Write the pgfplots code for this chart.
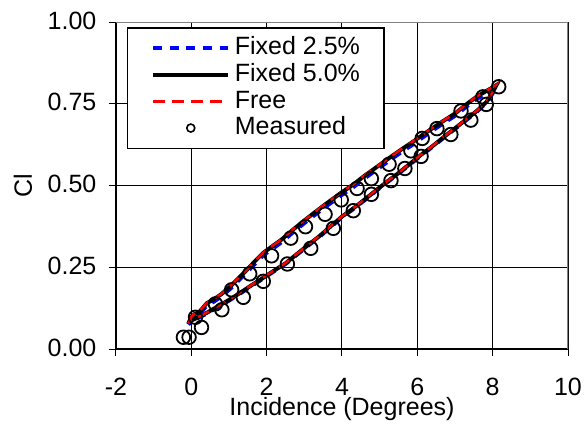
\documentclass[border=0pt]{standalone}
\usepackage{fontspec}
\setmainfont{Liberation Sans}
\usepackage{pgfplots}
\pgfplotsset{compat=1.18}
\newcommand{\chartfont}{\fontsize{12.5}{15}\selectfont}
\begin{document}
\begin{tikzpicture}[font=\chartfont]
\begin{axis}[
    name=ax,
    scale only axis, width=226pt, height=163.5pt,
    xmin=-2, xmax=10, ymin=0, ymax=1,
    xtick={-2,0,2,4,6,8,10}, xticklabels={-2,0,2,4,6,8,10},
    ytick={0,0.25,0.5,0.75,1}, yticklabels={0.00,0.25,0.50,0.75,1.00},
    axis x line*=bottom, axis y line*=left,
    axis line style={black, line width=0.7pt},
    grid=major, grid style={black, line width=0.5pt},
    tick align=outside, major tick length=3.5pt,
    tick style={black, line width=0.5pt},
    tick label style={font=\chartfont},
    label style={font=\chartfont},
    xticklabel style={anchor=base, inner sep=0pt, yshift=-19.5pt},
    yticklabel style={xshift=-2.8pt, yshift=0.7pt},
    xlabel={Incidence (Degrees)}, ylabel={Cl},
    every axis x label/.style={at={(rel axis cs:0.5,0)}, anchor=base,
        inner sep=0pt, yshift=-33pt},
    every axis y label/.style={at={(rel axis cs:-0.2058,0.5)}, anchor=center, rotate=90},
    legend style={at={(rel axis cs:0,1)}, anchor=north west,
        xshift=5.35pt, yshift=-2.65pt, draw=black, line width=0.6pt, fill=white,
        inner xsep=12pt, inner ysep=3.35pt, row sep=0pt, column sep=0pt,
        font=\chartfont,
        nodes={inner sep=0pt, text height=10pt, text depth=3.35pt},
        cells={anchor=west}},
    legend image code/.code={
        \draw[#1] (0.5pt,0pt) -- (38pt,0pt);
        \path[draw=none, fill=none] (0pt,0pt) (41.3pt,0pt);},
]
% Fixed 2.5%
\addplot[blue, line width=2pt, dash pattern=on 4.5pt off 3.8pt] coordinates {
(-0.08,0.075) (0.0,0.092) (0.1,0.102) (0.2,0.106) (0.3,0.118) (0.41,0.133)
(0.6,0.145) (0.8,0.161) (1.05,0.186) (1.3,0.215) (1.5,0.238) (1.7,0.262)
(1.91,0.287) (2.1,0.302) (2.4,0.327) (2.7,0.357) (3.0,0.385) (3.3,0.412)
(3.6,0.438) (3.98,0.47) (4.3,0.495) (4.6,0.522) (5.0,0.555) (5.3,0.58)
(5.6,0.604) (5.9,0.627) (6.13,0.646) (6.4,0.668) (6.7,0.691) (7.0,0.713)
(7.3,0.741) (7.57,0.764) (7.8,0.781) (8.0,0.795) (8.1,0.804)
(8.0,0.782) (7.84,0.754) (7.6,0.728) (7.3,0.700) (7.0,0.673) (6.7,0.646)
(6.4,0.618) (6.1,0.592) (5.8,0.564) (5.5,0.536) (5.2,0.510) (4.9,0.483)
(4.6,0.455) (4.3,0.428) (4.0,0.403) (3.7,0.373) (3.4,0.343) (3.1,0.316)
(2.8,0.288) (2.5,0.260) (2.2,0.238) (1.9,0.215) (1.6,0.193) (1.3,0.170)
(1.0,0.148) (0.7,0.128) (0.4,0.108) (0.2,0.096) (0.0,0.085) (-0.08,0.075)
};
\addlegendentry{Fixed 2.5\%}
% Fixed 5.0%
\addplot[black, line width=2pt] coordinates {
(-0.08,0.078) (0.0,0.098) (0.1,0.108) (0.2,0.112) (0.3,0.125) (0.41,0.14)
(0.6,0.152) (0.8,0.168) (1.05,0.193) (1.3,0.222) (1.5,0.245) (1.7,0.27)
(1.91,0.294) (2.1,0.31) (2.4,0.335) (2.7,0.365) (3.0,0.393) (3.3,0.42)
(3.6,0.446) (3.98,0.478) (4.3,0.503) (4.6,0.53) (5.0,0.563) (5.3,0.588)
(5.6,0.612) (5.9,0.635) (6.13,0.654) (6.4,0.675) (6.7,0.698) (7.0,0.72)
(7.3,0.748) (7.57,0.771) (7.8,0.787) (8.0,0.8) (8.1,0.807)
(8.0,0.785) (7.84,0.756) (7.6,0.73) (7.3,0.702) (7.0,0.675) (6.7,0.648)
(6.4,0.62) (6.1,0.594) (5.8,0.566) (5.5,0.538) (5.2,0.512) (4.9,0.485)
(4.6,0.457) (4.3,0.43) (4.0,0.405) (3.7,0.375) (3.4,0.345) (3.1,0.318)
(2.8,0.29) (2.5,0.262) (2.2,0.24) (1.9,0.217) (1.6,0.195) (1.3,0.172)
(1.0,0.15) (0.7,0.13) (0.4,0.11) (0.2,0.098) (0.0,0.087) (-0.08,0.078)
};
\addlegendentry{Fixed 5.0\%}
% Free
\addplot[red, line width=1.2pt, dash pattern=on 6pt off 3.5pt] coordinates {
(-0.08,0.079) (0.0,0.099) (0.1,0.109) (0.2,0.113) (0.3,0.127) (0.41,0.141)
(0.6,0.153) (0.8,0.169) (1.05,0.194) (1.3,0.223) (1.5,0.246) (1.7,0.271)
(1.91,0.295) (2.1,0.311) (2.4,0.336) (2.7,0.366) (3.0,0.394) (3.3,0.421)
(3.6,0.447) (3.98,0.479) (4.3,0.504) (4.6,0.531) (5.0,0.564) (5.3,0.589)
(5.6,0.613) (5.9,0.636) (6.13,0.655) (6.4,0.676) (6.7,0.699) (7.0,0.721)
(7.3,0.749) (7.57,0.772) (7.8,0.788) (8.0,0.801) (8.1,0.808)
(8.0,0.786) (7.84,0.757) (7.6,0.731) (7.3,0.703) (7.0,0.676) (6.7,0.649)
(6.4,0.621) (6.1,0.595) (5.8,0.567) (5.5,0.539) (5.2,0.513) (4.9,0.486)
(4.6,0.458) (4.3,0.431) (4.0,0.406) (3.7,0.376) (3.4,0.346) (3.1,0.319)
(2.8,0.291) (2.5,0.263) (2.2,0.241) (1.9,0.218) (1.6,0.196) (1.3,0.173)
(1.0,0.151) (0.7,0.131) (0.4,0.111) (0.2,0.099) (0.0,0.088) (-0.08,0.079)
};
\addlegendentry{Free}
% Measured
\addplot[only marks, mark=o, mark size=3.4pt,
    mark options={black, fill=white, line width=0.9pt},
    legend image code/.code={
        \draw[black, line width=0.8pt, fill=white] (19.25pt,0pt) circle (2pt);
        \path[draw=none, fill=none] (0pt,0pt) (41.3pt,0pt);}] coordinates {
(-0.21,0.036) (-0.06,0.036) (0.11,0.097) (0.27,0.066) (0.64,0.138)
(0.81,0.120) (1.07,0.181) (1.38,0.158) (1.55,0.230) (1.91,0.207)
(2.13,0.285) (2.55,0.260) (2.64,0.339) (3.03,0.374) (3.17,0.308)
(3.55,0.412) (3.77,0.369) (3.98,0.456) (4.30,0.423) (4.40,0.491)
(4.78,0.521) (4.78,0.473) (5.25,0.565) (5.30,0.515) (5.67,0.552)
(5.83,0.606) (6.10,0.589) (6.13,0.644) (6.52,0.674) (6.89,0.656)
(7.16,0.728) (7.42,0.700) (7.74,0.771) (7.83,0.748) (8.16,0.802)
};
\addlegendentry{Measured}
\draw[gray, line width=1pt] (rel axis cs:0,1) -- (rel axis cs:1,1) -- (rel axis cs:1,0);
\end{axis}
\pgfresetboundingbox
\path ([shift={(-58pt,-37.5pt)}]ax.south west) rectangle ([shift={(8pt,11pt)}]ax.north east);
\end{tikzpicture}
\end{document}
